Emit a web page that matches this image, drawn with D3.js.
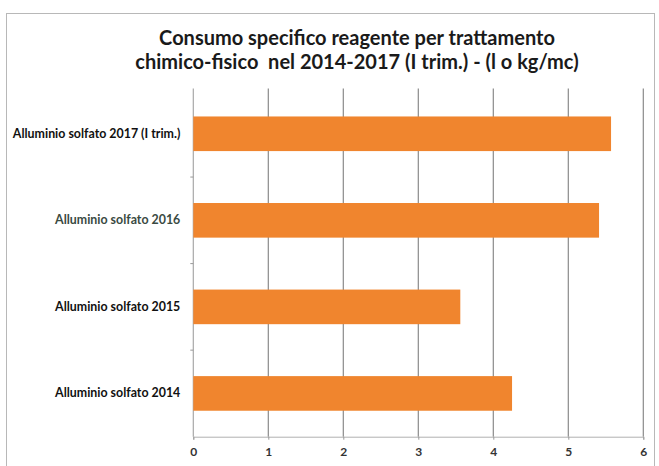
<!DOCTYPE html>
<html><head><meta charset="utf-8">
<script src="https://cdn.jsdelivr.net/npm/d3@7"></script>
<style>html,body{margin:0;padding:0;background:#fff;}svg{display:block;}</style>
</head><body>
<svg id="chart" width="659" height="466"></svg>
<script>
const categories = ["Alluminio solfato 2017 (I trim.)", "Alluminio solfato 2016", "Alluminio solfato 2015", "Alluminio solfato 2014"];
const values = [5.57, 5.41, 3.56, 4.25];
const xTicks = [0, 1, 2, 3, 4, 5, 6];
const titleLines = ["Consumo specifico reagente per trattamento", "chimico-fisico  nel 2014-2017 (I trim.) - (l o kg/mc)"];

const svg = d3.select("#chart");
const margin = {left: 193.3, right: 659 - 643.3, top: 90.5, bottom: 466 - 436.7};
const W = 659, H = 466;

// outer border
svg.append("rect").attr("x", 6.5).attr("y", 13.5).attr("width", 648).attr("height", 470)
  .attr("fill", "none").attr("stroke", "#b8b8b8").attr("stroke-width", 1);

const x = d3.scaleLinear().domain([0, 6]).range([margin.left, W - margin.right]);
const y = d3.scaleBand().domain(categories).range([margin.top, H - margin.bottom]).paddingInner(0.6).paddingOuter(0.3);

// gridlines
svg.append("g").selectAll("line").data(xTicks).join("line")
  .attr("x1", d => x(d)).attr("x2", d => x(d))
  .attr("y1", margin.top - 2).attr("y2", H - margin.bottom)
  .attr("stroke", d => d === 0 ? "#a8a8a8" : "#8a8a8a").attr("stroke-width", 1.2);

// bars
svg.append("g").selectAll("rect").data(values).join("rect")
  .attr("x", x(0)).attr("y", (d, i) => y(categories[i]))
  .attr("width", d => x(d) - x(0)).attr("height", y.bandwidth())
  .attr("fill", "#F0852E");

// bottom axis
const xAxis = svg.append("g").attr("transform", `translate(0,${H - margin.bottom})`)
  .call(d3.axisBottom(x).tickValues(xTicks).tickSize(3).tickFormat(d3.format("d")));
xAxis.select(".domain").attr("stroke", "#b0b0b0");
xAxis.selectAll(".tick line").attr("stroke", "#999");
xAxis.selectAll("text").attr("font-family", "Lato, 'Open Sans', sans-serif").attr("font-size", 12)
  .attr("font-weight", "bold").attr("fill", "#333").attr("dy", "1.15em");

// left axis
const yAxis = svg.append("g").attr("transform", `translate(${x(0)},0)`)
  .call(d3.axisLeft(y).tickSize(0).tickPadding(13));
yAxis.select(".domain").remove();
yAxis.selectAll("text").attr("font-family", "Lato, 'Open Sans', sans-serif").attr("font-size", 12.4)
  .attr("font-weight", "bold")
  .attr("fill", (d, i) => i === 1 ? "#3a4a42" : "#111");
// small boundary ticks on left axis
const step = y.step();
svg.append("g").selectAll("line").data(categories.slice(1)).join("line")
  .attr("x1", x(0) - 3).attr("x2", x(0))
  .attr("y1", d => y(d) - step * y.paddingInner() / 2).attr("y2", d => y(d) - step * y.paddingInner() / 2)
  .attr("stroke", "#999");

// title
svg.append("g").selectAll("text").data(titleLines).join("text")
  .attr("x", 357).attr("y", (d, i) => 45 + i * 24)
  .attr("text-anchor", "middle")
  .attr("font-family", "Lato, 'Open Sans', sans-serif").attr("font-weight", "bold").attr("font-size", 20)
  .attr("fill", "#1a1a1a").style("white-space", "pre").text(d => d);
</script>
</body></html>
